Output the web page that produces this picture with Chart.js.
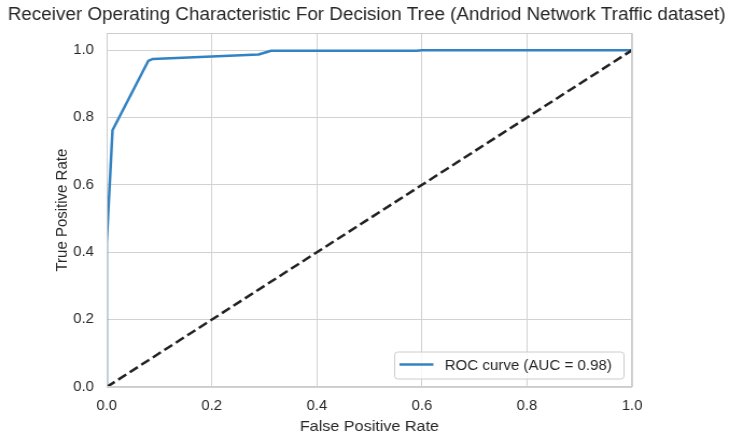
<!DOCTYPE html>
<html><head><meta charset="utf-8">
<script src="https://cdn.jsdelivr.net/npm/chart.js@4.4.1/dist/chart.umd.min.js"></script>
<style>
html,body{margin:0;padding:0;background:#fff;overflow:hidden}
#wrap{position:absolute;left:0;top:0;width:677px;height:439px;transform:scaleX(1.0768);transform-origin:0 0}
</style></head><body>
<div id="wrap"><canvas id="c"></canvas></div>
<script>
// ---- data ----
const rocFpr = [0, 0, 0.011, 0.079, 0.088, 0.289, 0.313, 0.59, 0.6, 1.0];
const rocTpr = [0, 0.43, 0.762, 0.968, 0.974, 0.987, 0.998, 0.998, 1.0, 1.0];
const chanceFpr = [0, 1];
const chanceTpr = [0, 1];
const xTicks = [0, 0.2, 0.4, 0.6, 0.8, 1.0];
const yTicks = [0, 0.2, 0.4, 0.6, 0.8, 1.0];
const titleText = 'Receiver Operating Characteristic For Decision Tree (Andriod Network Traffic dataset)';
const xLabel = 'False Positive Rate';
const yLabel = 'True Positive Rate';
const legendLabel = 'ROC curve (AUC = 0.98)';

// ---- styles ----
const FONT = '"Liberation Sans", Arial, Helvetica, sans-serif';
const TEXT = '#262626';
const GRID = '#d2d2d2';
const SPINE = '#cccccc';
const ROC_COLOR = '#3383c3';

const rocPts = rocFpr.map((x, i) => ({x, y: rocTpr[i]}));
const chancePts = chanceFpr.map((x, i) => ({x, y: chanceTpr[i]}));

const framePlugin = {
  id: 'frame',
  afterDatasetsDraw(chart) {
    const a = chart.chartArea, ctx = chart.ctx;
    ctx.save();
    ctx.strokeStyle = SPINE;
    ctx.lineWidth = 1;
    ctx.strokeRect(Math.round(a.left) + 0.5, Math.round(a.top) + 0.5,
                   Math.round(a.right) - Math.round(a.left) - 1, Math.round(a.bottom) - Math.round(a.top) - 1);
    ctx.restore();
  }
};

const legendPlugin = {
  id: 'insideLegend',
  afterDraw(chart) {
    const a = chart.chartArea, ctx = chart.ctx;
    const w = 213, h = 27;
    const x = a.right - 7.5 - w, y = a.bottom - 8 - h;
    ctx.save();
    const r = 3;
    ctx.beginPath();
    ctx.moveTo(x + r, y);
    ctx.lineTo(x + w - r, y); ctx.quadraticCurveTo(x + w, y, x + w, y + r);
    ctx.lineTo(x + w, y + h - r); ctx.quadraticCurveTo(x + w, y + h, x + w - r, y + h);
    ctx.lineTo(x + r, y + h); ctx.quadraticCurveTo(x, y + h, x, y + h - r);
    ctx.lineTo(x, y + r); ctx.quadraticCurveTo(x, y, x + r, y);
    ctx.closePath();
    ctx.fillStyle = 'rgba(255,255,255,0.8)';
    ctx.fill();
    ctx.strokeStyle = SPINE;
    ctx.lineWidth = 1;
    ctx.stroke();
    ctx.beginPath();
    ctx.strokeStyle = ROC_COLOR;
    ctx.lineWidth = 2.5;
    ctx.moveTo(x + 4.5, y + h / 2 - 1);
    ctx.lineTo(x + 36, y + h / 2 - 1);
    ctx.stroke();
    ctx.fillStyle = TEXT;
    ctx.font = '14px ' + FONT;
    ctx.textBaseline = 'middle';
    ctx.textAlign = 'left';
    ctx.fillText(legendLabel, x + 46.5, y + h / 2 + 0.5);
    ctx.restore();
  }
};

new Chart(document.getElementById('c'), {
  type: 'scatter',
  data: {
    datasets: [
      {
        label: 'chance',
        data: chancePts,
        showLine: true,
        borderColor: '#222222',
        borderWidth: 2.5,
        borderDash: [9, 4],
        pointRadius: 0,
        fill: false
      },
      {
        label: legendLabel,
        data: rocPts,
        showLine: true,
        borderColor: ROC_COLOR,
        borderWidth: 2.5,
        borderJoinStyle: 'round',
        borderCapStyle: 'round',
        pointRadius: 0,
        fill: false
      }
    ]
  },
  options: {
    responsive: true,
    maintainAspectRatio: false,
    animation: false,
    events: [],
    layout: { padding: { left: 4, right: 0, top: 0, bottom: 0 } },
    plugins: {
      legend: { display: false },
      tooltip: { enabled: false },
      title: {
        display: true,
        text: titleText,
        color: TEXT,
        font: { family: FONT, size: 17.5, weight: 'normal' },
        padding: { top: 5, bottom: 7.3 }
      }
    },
    scales: {
      x: {
        type: 'linear',
        min: 0, max: 1,
        afterBuildTicks: s => { s.ticks = xTicks.map(v => ({value: v})); },
        afterFit: s => { s.height = 52; },
        ticks: {
          color: TEXT,
          font: { family: FONT, size: 13.75 },
          padding: 11,
          callback: v => Number(v).toFixed(1)
        },
        grid: { color: GRID, lineWidth: 1, drawTicks: false },
        border: { display: false },
        title: {
          display: true, text: xLabel, color: TEXT,
          font: { family: FONT, size: 15 },
          padding: { top: 0, bottom: 3 }
        }
      },
      y: {
        type: 'linear',
        min: 0, max: 1.05,
        afterBuildTicks: s => { s.ticks = yTicks.map(v => ({value: v})); },
        afterFit: s => { s.width = 95.1; },
        ticks: {
          color: TEXT,
          font: { family: FONT, size: 13.75 },
          padding: 12,
          callback: v => Number(v).toFixed(1)
        },
        grid: { color: GRID, lineWidth: 1, drawTicks: false },
        border: { display: false },
        title: {
          display: true, text: yLabel, color: TEXT,
          font: { family: FONT, size: 15 },
          padding: { top: 44.6, bottom: 0 }
        }
      },
      rightSpace: {
        type: 'linear',
        position: 'right',
        min: 0, max: 1,
        display: true,
        afterFit: s => { s.width = 90; },
        ticks: { display: false },
        grid: { display: false, drawOnChartArea: false },
        border: { display: false },
        title: { display: false }
      }
    }
  },
  plugins: [framePlugin, legendPlugin]
});
</script>
</body></html>
